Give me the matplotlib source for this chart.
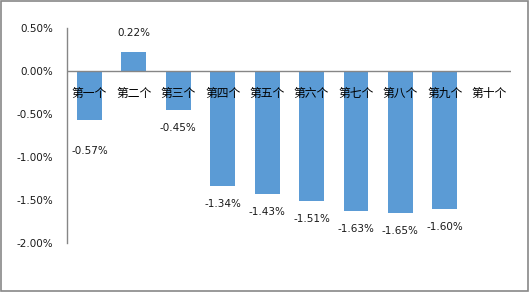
import matplotlib.pyplot as plt
from matplotlib.patches import Rectangle

plt.rcParams['font.family'] = ['Noto Sans CJK SC', 'DejaVu Sans']

categories = ["第一个", "第二个", "第三个", "第四个", "第五个",
              "第六个", "第七个", "第八个", "第九个", "第十个"]
values = [-0.57, 0.22, -0.45, -1.34, -1.43, -1.51, -1.63, -1.65, -1.60]
yticks = [0.5, 0.0, -0.5, -1.0, -1.5, -2.0]

fig = plt.figure(figsize=(5.3, 2.92), dpi=100)
fig.patches.append(Rectangle((0.002, 0.004), 0.995, 0.992, transform=fig.transFigure,
                             fill=False, edgecolor="#888888", linewidth=1.2))
ax = fig.add_axes([0.127, 0.168, 0.838, 0.736])

x = list(range(len(values)))
ax.bar(x, values, width=0.56, color="#5B9BD5", zorder=2)

ax.set_xlim(-0.5, len(categories) - 0.5)
ax.set_ylim(-2.0, 0.5)
ax.axhline(0, color="#868686", linewidth=1.0, zorder=3)

for s in ["top", "right", "bottom"]:
    ax.spines[s].set_visible(False)
ax.spines["left"].set_color("#868686")
ax.spines["left"].set_linewidth(1.0)

ax.set_xticks([])
ax.set_yticks(yticks)
ax.set_yticklabels(["%.2f%%" % v for v in yticks], fontsize=7.5, color="#1a1a1a",
                   family="DejaVu Sans")
ax.tick_params(axis="y", length=0, pad=10)

for i, c in enumerate(categories):
    ax.annotate(c, (i, 0), xytext=(0, -16), textcoords="offset points",
                ha="center", va="center", fontsize=8.5, color="black", zorder=4)

for i, v in enumerate(values):
    if v >= 0:
        off = 14
    elif i == 0:
        off = -22
    else:
        off = -13
    ax.annotate("%.2f%%" % v, (i, v), xytext=(0, off), textcoords="offset points",
                ha="center", va="center", fontsize=7.5, color="#1a1a1a",
                family="DejaVu Sans")

fig.savefig("out.png", dpi=100)
